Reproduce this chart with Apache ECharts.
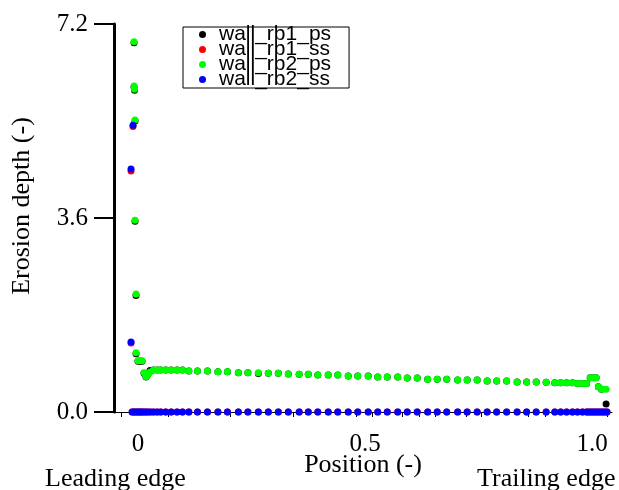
<!DOCTYPE html>
<html>
<head>
<meta charset="utf-8">
<script src="https://cdn.jsdelivr.net/npm/echarts@6/dist/echarts.min.js"></script>
<style>
  html, body { margin: 0; padding: 0; background: #fff; }
  #chart { width: 619px; height: 490px; }
</style>
</head>
<body>
<div id="chart"></div>
<script>
// pressure side positions (shared by rb1_ps / rb2_ps)
const psPos = [-0.0088, -0.0088, -0.0077, -0.0066, -0.0066, -0.0044, -0.0044, 0.0, 0.0044, 0.0088,
  0.0132, 0.0176, 0.022, 0.0264, 0.034, 0.0425, 0.05, 0.061, 0.073, 0.086,
  0.098, 0.112, 0.131, 0.153, 0.176, 0.197, 0.221, 0.242, 0.265, 0.287,
  0.309, 0.331, 0.355, 0.375, 0.396, 0.419, 0.44, 0.463, 0.484, 0.507,
  0.528, 0.549, 0.572, 0.593, 0.615, 0.638, 0.659, 0.68, 0.704, 0.725,
  0.747, 0.769, 0.79, 0.812, 0.835, 0.856, 0.877, 0.899, 0.918, 0.931,
  0.944, 0.957, 0.968, 0.979, 0.988, 0.996, 1.004, 1.009, 1.014, 1.021,
  1.031]
const rb1Ps = [6.85, 6.03, 5.97, 5.40, 3.54, 2.16, 1.08, 0.94, 0.94, 0.94,
  0.72, 0.65, 0.70, 0.77, 0.78, 0.78, 0.78, 0.78, 0.78, 0.78,
  0.78, 0.76, 0.76, 0.76, 0.745, 0.745, 0.73, 0.73, 0.715, 0.72,
  0.72, 0.705, 0.70, 0.70, 0.687, 0.687, 0.687, 0.668, 0.668, 0.668,
  0.65, 0.65, 0.65, 0.63, 0.63, 0.61, 0.61, 0.61, 0.594, 0.594,
  0.594, 0.575, 0.575, 0.575, 0.557, 0.557, 0.557, 0.55, 0.544, 0.544,
  0.544, 0.544, 0.53, 0.53, 0.53, 0.636, 0.636, 0.636, 0.47, 0.42,
  0.15]
const rb2Ps = [6.87, 6.05, 5.99, 5.42, 3.56, 2.19, 1.10, 0.95, 0.95, 0.95,
  0.73, 0.655, 0.70, 0.74, 0.78, 0.78, 0.78, 0.78, 0.78, 0.78,
  0.78, 0.76, 0.76, 0.76, 0.745, 0.745, 0.73, 0.73, 0.73, 0.72,
  0.72, 0.705, 0.70, 0.70, 0.687, 0.687, 0.687, 0.668, 0.668, 0.668,
  0.65, 0.65, 0.65, 0.63, 0.63, 0.61, 0.61, 0.61, 0.594, 0.594,
  0.594, 0.575, 0.575, 0.575, 0.557, 0.557, 0.557, 0.55, 0.544, 0.544,
  0.544, 0.544, 0.53, 0.53, 0.53, 0.636, 0.636, 0.636, 0.47, 0.42,
  0.42]

// suction side positions (shared by rb1_ss / rb2_ss)
const ssPos = [-0.011, -0.0154, -0.0154, -0.013, -0.009, -0.005, -0.001, 0.003, 0.007, 0.011,
  0.016, 0.021, 0.027, 0.034, 0.042, 0.05, 0.061, 0.073, 0.086, 0.098,
  0.112, 0.131, 0.153, 0.176, 0.197, 0.221, 0.242, 0.265, 0.287, 0.309,
  0.331, 0.355, 0.375, 0.396, 0.419, 0.44, 0.463, 0.484, 0.507, 0.528,
  0.549, 0.572, 0.593, 0.615, 0.638, 0.659, 0.68, 0.704, 0.725, 0.747,
  0.769, 0.79, 0.812, 0.835, 0.856, 0.877, 0.899, 0.918, 0.931, 0.944,
  0.957, 0.968, 0.979, 0.988, 0.993, 0.998, 1.003, 1.008, 1.013, 1.018,
  1.023, 1.028, 1.033]
const rb1Ss = [5.30, 4.47, 1.28, 0, 0, 0, 0, 0, 0, 0,
  0, 0, 0, 0, 0, 0, 0, 0, 0, 0,
  0, 0, 0, 0, 0, 0, 0, 0, 0, 0,
  0, 0, 0, 0, 0, 0, 0, 0, 0, 0,
  0, 0, 0, 0, 0, 0, 0, 0, 0, 0,
  0, 0, 0, 0, 0, 0, 0, 0, 0, 0,
  0, 0, 0, 0, 0, 0, 0, 0, 0, 0,
  0, 0, 0]
const rb2Ss = [5.32, 4.51, 1.30, 0, 0, 0, 0, 0, 0, 0,
  0, 0, 0, 0, 0, 0, 0, 0, 0, 0,
  0, 0, 0, 0, 0, 0, 0, 0, 0, 0,
  0, 0, 0, 0, 0, 0, 0, 0, 0, 0,
  0, 0, 0, 0, 0, 0, 0, 0, 0, 0,
  0, 0, 0, 0, 0, 0, 0, 0, 0, 0,
  0, 0, 0, 0, 0, 0, 0, 0, 0, 0,
  0, 0, 0]

const seriesNames = ['wall_rb1_ps', 'wall_rb1_ss', 'wall_rb2_ps', 'wall_rb2_ss']
const seriesColors = ['#000000', '#ff0000', '#00ff00', '#0000ff']
const xLabelValues = [0, 0.5, 1.0]
const xTickValues = [-0.036, 0.0667, 0.204, 0.341, 0.48, 0.515, 0.583, 0.62, 0.654, 0.724, 0.757, 0.859, 0.896, 1.033]
const yTicks = [0, 3.6, 7.2]

function pairs (xs, ys) {
  let res = []
  for (let i = 0; i < xs.length; i++) {
    res.push([xs[i], ys[i]])
  }
  return res
}

const serif = 'Liberation Serif'
const chart = echarts.init(document.getElementById('chart'))
const seriesData = [pairs(psPos, rb1Ps), pairs(ssPos, rb1Ss), pairs(psPos, rb2Ps), pairs(ssPos, rb2Ss)]

chart.setOption({
  animation: false,
  backgroundColor: '#fff',
  grid: { left: 114, right: 7, top: 24, bottom: 78, outerBoundsMode: 'none' },
  legend: {
    orient: 'vertical',
    left: 183,
    top: 27,
    data: seriesNames,
    icon: 'circle',
    itemWidth: 23,
    itemHeight: 7,
    itemGap: -6,
    padding: [-3, 18, -2, 16],
    borderColor: '#000',
    borderWidth: 1,
    borderRadius: 0,
    textStyle: {
      fontFamily: 'Liberation Sans',
      fontSize: 21,
      color: '#000'
    }
  },
  xAxis: {
    type: 'value',
    min: -0.0529,
    max: 1.044,
    name: 'Position (-)',
    nameLocation: 'middle',
    nameGap: 40,
    nameMoveOverlap: false,
    nameTextStyle: { fontFamily: serif, fontSize: 26, color: '#000' },
    axisLine: { show: true, lineStyle: { color: '#000', width: 1 } },
    axisTick: { show: true, length: 5, customValues: xTickValues, lineStyle: { color: '#000', width: 1 } },
    axisLabel: {
      customValues: xLabelValues,
      margin: 20,
      fontFamily: serif,
      fontSize: 25,
      color: '#000',
      formatter: (v) => v === 0 ? '0' : v.toFixed(1)
    },
    splitLine: { show: false }
  },
  yAxis: {
    type: 'value',
    min: 0,
    max: 7.2,
    interval: 3.6,
    name: 'Erosion depth (-)',
    nameLocation: 'middle',
    nameGap: 79,
    nameMoveOverlap: false,
    nameTextStyle: { fontFamily: serif, fontSize: 26, color: '#000', padding: [0, 0, 0, 24] },
    axisLine: { show: true, onZero: false, lineStyle: { color: '#000', width: 3 } },
    axisTick: { show: true, length: 20, customValues: yTicks, lineStyle: { color: '#000', width: 2 } },
    axisLabel: {
      margin: 26,
      fontFamily: serif,
      fontSize: 25,
      color: '#000',
      formatter: (v) => v.toFixed(1)
    },
    splitLine: { show: false }
  },
  graphic: [
    { type: 'text', left: 45, top: 466, style: { text: 'Leading edge', fontFamily: serif, fontSize: 26, fill: '#000' } },
    { type: 'text', left: 477, top: 466, style: { text: 'Trailing edge', fontFamily: serif, fontSize: 26, fill: '#000' } }
  ],
  series: seriesNames.map((name, i) => ({
    name: name,
    type: 'scatter',
    symbol: 'circle',
    symbolSize: 7,
    itemStyle: { color: seriesColors[i], opacity: 1 },
    data: seriesData[i]
  }))
})
</script>
</body>
</html>
